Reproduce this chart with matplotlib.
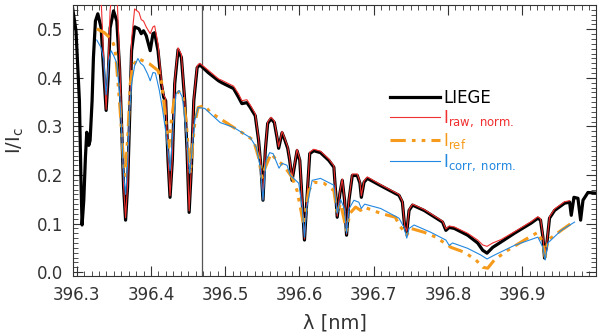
import matplotlib
matplotlib.use("Agg")
import matplotlib.pyplot as plt
from matplotlib.ticker import MultipleLocator

# LIEGE atlas
lam_liege = [396.2946, 396.299, 396.3036, 396.3058, 396.3072, 396.3095, 396.3117, 396.3135, 396.3162, 396.318,
             396.3207, 396.3225, 396.3252, 396.3284, 396.3329, 396.336, 396.3396, 396.3423, 396.345, 396.3496,
             396.354, 396.3577, 396.3608, 396.3631, 396.3658, 396.3685, 396.3712, 396.3739, 396.378, 396.3838,
             396.3869, 396.39, 396.3936, 396.399, 396.4027, 396.405, 396.4095, 396.414, 396.4172, 396.4198,
             396.423, 396.4257, 396.4288, 396.432, 396.4365, 396.441, 396.4455, 396.4486, 396.4514, 396.4545,
             396.4577, 396.4622, 396.4658, 396.477, 396.491, 396.4955, 396.5113, 396.518, 396.5225, 396.5293,
             396.5338, 396.5405, 396.545, 396.5482, 396.5509, 396.554, 396.5572, 396.5617, 396.5662, 396.5698,
             396.572, 396.5766, 396.5797, 396.5842, 396.5869, 396.5901, 396.5935, 396.5968, 396.6005, 396.6036,
             396.6068, 396.61, 396.6139, 396.6193, 396.6284, 396.6396, 396.6464, 396.6486, 396.6509, 396.6545,
             396.6577, 396.6608, 396.6635, 396.6667, 396.6712, 396.678, 396.6815, 396.6834, 396.687, 396.6915,
             396.7095, 396.7342, 396.7387, 396.7419, 396.7446, 396.7477, 396.7523, 396.768, 396.7928, 396.7973,
             396.8018, 396.8086, 396.8266, 396.8401, 396.8469, 396.8527, 396.8604, 396.8716, 396.8896, 396.9122,
             396.9212, 396.9248, 396.928, 396.9302, 396.9334, 396.9369, 396.9437, 396.9572, 396.964, 396.9662,
             396.9698, 396.9752, 396.9788, 396.982, 396.9887, 397.0045]
i_liege = [0.542, 0.497, 0.353, 0.183, 0.097, 0.148, 0.236, 0.288, 0.261, 0.271,
           0.353, 0.442, 0.517, 0.532, 0.503, 0.421, 0.333, 0.400, 0.503, 0.538,
           0.517, 0.421, 0.285, 0.175, 0.107, 0.175, 0.318, 0.456, 0.505, 0.501,
           0.491, 0.497, 0.487, 0.456, 0.491, 0.493, 0.456, 0.388, 0.360, 0.353,
           0.230, 0.154, 0.230, 0.388, 0.458, 0.442, 0.353, 0.250, 0.123, 0.216,
           0.353, 0.421, 0.427, 0.411, 0.394, 0.390, 0.378, 0.360, 0.347, 0.349,
           0.339, 0.322, 0.271, 0.216, 0.148, 0.250, 0.306, 0.316, 0.308, 0.277,
           0.255, 0.287, 0.275, 0.255, 0.230, 0.189, 0.220, 0.250, 0.230, 0.148,
           0.066, 0.148, 0.244, 0.250, 0.246, 0.230, 0.216, 0.168, 0.113, 0.162,
           0.189, 0.148, 0.076, 0.148, 0.199, 0.199, 0.183, 0.154, 0.185, 0.193,
           0.178, 0.158, 0.144, 0.092, 0.082, 0.127, 0.138, 0.127, 0.103, 0.086,
           0.092, 0.090, 0.076, 0.060, 0.045, 0.039, 0.051, 0.062, 0.080, 0.101,
           0.111, 0.107, 0.072, 0.029, 0.060, 0.111, 0.127, 0.142, 0.144, 0.117,
           0.154, 0.152, 0.107, 0.148, 0.164, 0.162]

# I raw, normalised
lam_raw = [396.326, 396.3284, 396.3329, 396.336, 396.3396, 396.3423, 396.345, 396.3496, 396.354, 396.3577,
           396.3608, 396.3631, 396.3658, 396.3685, 396.3712, 396.3739, 396.378, 396.3838, 396.3869, 396.39,
           396.3936, 396.399, 396.4027, 396.405, 396.4095, 396.414, 396.4172, 396.4198, 396.423, 396.4257,
           396.4288, 396.432, 396.4365, 396.441, 396.4455, 396.4486, 396.4514, 396.4545, 396.4577, 396.4622,
           396.4658, 396.477, 396.491, 396.4955, 396.5113, 396.518, 396.5225, 396.5293, 396.5338, 396.5405,
           396.545, 396.5482, 396.5509, 396.554, 396.5572, 396.5617, 396.5662, 396.5698, 396.572, 396.5766,
           396.5797, 396.5842, 396.5869, 396.5901, 396.5935, 396.5968, 396.6005, 396.6036, 396.6068, 396.61,
           396.6139, 396.6193, 396.6284, 396.6396, 396.6464, 396.6486, 396.6509, 396.6545, 396.6577, 396.6608,
           396.6635, 396.6667, 396.6712, 396.678, 396.6815, 396.6834, 396.687, 396.6915, 396.7095, 396.7342,
           396.7387, 396.7419, 396.7446, 396.7477, 396.7523, 396.768, 396.7928, 396.7973, 396.8018, 396.8086,
           396.8266, 396.8401, 396.8469, 396.8527, 396.8604, 396.8716, 396.8896, 396.9122, 396.9212, 396.9248,
           396.928, 396.9302, 396.9334, 396.9369, 396.9437, 396.9572, 396.964]
i_raw = [0.560, 0.600, 0.560, 0.450, 0.335, 0.420, 0.540, 0.600, 0.580, 0.440,
         0.295, 0.180, 0.112, 0.180, 0.330, 0.480, 0.542, 0.535, 0.520, 0.517,
         0.505, 0.491, 0.505, 0.507, 0.470, 0.395, 0.365, 0.357, 0.235, 0.157,
         0.235, 0.395, 0.462, 0.448, 0.357, 0.253, 0.126, 0.220, 0.357, 0.425,
         0.430, 0.416, 0.398, 0.395, 0.383, 0.367, 0.353, 0.355, 0.344, 0.326,
         0.274, 0.219, 0.150, 0.253, 0.309, 0.319, 0.311, 0.280, 0.258, 0.290,
         0.278, 0.258, 0.233, 0.192, 0.223, 0.253, 0.233, 0.150, 0.068, 0.150,
         0.247, 0.253, 0.249, 0.233, 0.219, 0.170, 0.115, 0.165, 0.192, 0.150,
         0.078, 0.150, 0.202, 0.202, 0.186, 0.157, 0.188, 0.196, 0.180, 0.160,
         0.146, 0.094, 0.084, 0.129, 0.140, 0.129, 0.105, 0.089, 0.095, 0.093,
         0.080, 0.066, 0.056, 0.053, 0.060, 0.067, 0.083, 0.104, 0.114, 0.110,
         0.075, 0.032, 0.063, 0.114, 0.130, 0.145, 0.147]

# I ref
lam_ref = [396.327, 396.3374, 396.3442, 396.3496, 396.3523, 396.3554, 396.3585, 396.3612, 396.3635, 396.3653,
           396.369, 396.3721, 396.3757, 396.3824, 396.398, 396.4095, 396.414, 396.4172, 396.4207, 396.424,
           396.4275, 396.432, 396.4378, 396.4432, 396.4477, 396.4504, 396.453, 396.4558, 396.459, 396.4635,
           396.4725, 396.4797, 396.4932, 396.5113, 396.5293, 396.5383, 396.545, 396.5495, 396.554, 396.5617,
           396.5698, 396.5788, 396.5901, 396.5968, 396.6058, 396.6126, 396.6193, 396.6329, 396.6464, 396.6509,
           396.6554, 396.6635, 396.668, 396.6757, 396.6824, 396.6869, 396.7095, 396.7293, 396.7342, 396.7419,
           396.7446, 396.75, 396.768, 396.7838, 396.8041, 396.8221, 396.8378, 396.8469, 396.8536, 396.8626,
           396.8806, 396.9031, 396.9212, 396.928, 396.9311, 396.9347, 396.9527, 396.9685]
i_ref = [0.501, 0.493, 0.483, 0.470, 0.450, 0.394, 0.333, 0.271, 0.216, 0.199,
         0.285, 0.388, 0.425, 0.440, 0.429, 0.415, 0.394, 0.353, 0.298, 0.257,
         0.312, 0.363, 0.372, 0.360, 0.306, 0.250, 0.203, 0.257, 0.306, 0.339,
         0.343, 0.329, 0.316, 0.298, 0.281, 0.271, 0.236, 0.195, 0.216, 0.244,
         0.230, 0.220, 0.195, 0.168, 0.097, 0.168, 0.185, 0.183, 0.168, 0.121,
         0.141, 0.086, 0.121, 0.134, 0.127, 0.134, 0.121, 0.113, 0.097, 0.082,
         0.076, 0.090, 0.082, 0.072, 0.051, 0.041, 0.025, 0.010, 0.008, 0.025,
         0.045, 0.066, 0.082, 0.060, 0.031, 0.066, 0.086, 0.103]

# I corr, normalised
lam_corr = [396.327, 396.3329, 396.3365, 396.3396, 396.3432, 396.3464, 396.350, 396.354, 396.3577, 396.3608,
            396.3631, 396.3658, 396.3685, 396.3712, 396.3739, 396.378, 396.3824, 396.386, 396.390, 396.3955,
            396.399, 396.4027, 396.406, 396.4113, 396.4158, 396.4203, 396.4239, 396.4257, 396.4293, 396.4338,
            396.4378, 396.4423, 396.4469, 396.4504, 396.4523, 396.4558, 396.459, 396.4635, 396.4725, 396.4932,
            396.5113, 396.5338, 396.5419, 396.5473, 396.5509, 396.555, 396.5599, 396.5645, 396.5698, 396.5725,
            396.5766, 396.5833, 396.5878, 396.5923, 396.5991, 396.6036, 396.6068, 396.61, 396.6171, 396.6284,
            396.6464, 396.6509, 396.6554, 396.6608, 396.6635, 396.6667, 396.6734, 396.680, 396.6834, 396.6878,
            396.7095, 396.7342, 396.741, 396.7446, 396.7477, 396.7545, 396.777, 396.7973, 396.8018, 396.8063,
            396.8266, 396.8446, 396.8527, 396.8626, 396.8896, 396.9212, 396.928, 396.9311, 396.9347, 396.9527,
            396.9707]
i_corr = [0.478, 0.462, 0.435, 0.365, 0.435, 0.456, 0.445, 0.430, 0.370, 0.280,
          0.200, 0.160, 0.220, 0.330, 0.388, 0.425, 0.440, 0.430, 0.425, 0.408,
          0.394, 0.411, 0.410, 0.374, 0.333, 0.285, 0.236, 0.209, 0.285, 0.367,
          0.374, 0.360, 0.298, 0.230, 0.203, 0.257, 0.312, 0.339, 0.337, 0.308,
          0.298, 0.277, 0.257, 0.216, 0.148, 0.230, 0.246, 0.244, 0.224, 0.214,
          0.224, 0.220, 0.199, 0.193, 0.183, 0.134, 0.072, 0.134, 0.189, 0.193,
          0.179, 0.121, 0.150, 0.130, 0.080, 0.130, 0.148, 0.144, 0.131, 0.140,
          0.131, 0.111, 0.092, 0.070, 0.090, 0.097, 0.082, 0.066, 0.055, 0.060,
          0.049, 0.035, 0.027, 0.035, 0.055, 0.072, 0.051, 0.025, 0.060, 0.086,
          0.103]

lam_mark = 396.469

plt.rcParams['font.family'] = ['DejaVu Sans']
plt.rcParams['mathtext.fontset'] = 'dejavusans'

fig = plt.figure(figsize=(6, 3.36), dpi=100)
ax = fig.add_axes([0.1217, 0.1786, 0.8716, 0.8064])

ax.plot(lam_liege, i_liege, color='black', lw=2.3, label='LIEGE', zorder=2)
ax.plot(lam_raw, i_raw, color='#f03030', lw=0.8, label=r'I$_{\mathrm{raw,\ norm.}}$', zorder=3)
ax.plot(lam_ref, i_ref, color='#f59a1a', lw=2.2, ls=(0, (5, 2, 1.2, 2, 1.2, 2)),
        label=r'I$_{\mathrm{ref}}$', zorder=4)
ax.plot(lam_corr, i_corr, color='#2288e0', lw=0.8, label=r'I$_{\mathrm{corr,\ norm.}}$', zorder=5)
ax.axvline(lam_mark, color='#555555', lw=0.9, zorder=1)

ax.set_xlim(396.295, 396.9995)
ax.set_ylim(-0.008, 0.55)
ax.xaxis.set_major_locator(MultipleLocator(0.1))
ax.xaxis.set_minor_locator(MultipleLocator(0.01))
ax.yaxis.set_major_locator(MultipleLocator(0.1))
ax.yaxis.set_minor_locator(MultipleLocator(0.01))
ax.xaxis.set_major_formatter(plt.FuncFormatter(lambda v, p: f'{v:.1f}'))
ax.yaxis.set_major_formatter(plt.FuncFormatter(lambda v, p: f'{v:.1f}'))
ax.tick_params(which='both', direction='in', top=True, right=True, color='#333333',
               labelsize=12, labelcolor='#333333')
ax.tick_params(which='major', length=7, width=0.8, pad=7)
ax.tick_params(which='minor', length=3.5, width=0.6)
for s in ax.spines.values():
    s.set_linewidth(0.8)
    s.set_color('#333333')

ax.set_xlabel('λ [nm]', fontsize=14, color='#333333', labelpad=7)
ax.set_ylabel(r'I/I$_\mathrm{c}$', fontsize=14, color='#333333', labelpad=8)

leg = ax.legend(loc='upper left', bbox_to_anchor=(0.590, 0.721), frameon=False, fontsize=12,
                handlelength=3.0, handletextpad=0.2, labelspacing=0.1, borderpad=0,
                labelcolor='linecolor')

fig.savefig('out.png', dpi=100)
